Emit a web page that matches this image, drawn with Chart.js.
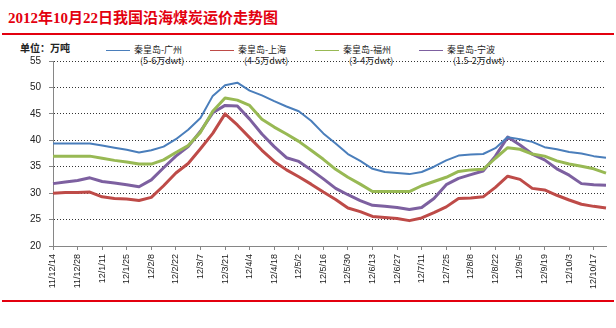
<!DOCTYPE html>
<html><head><meta charset="utf-8">
<script src="https://cdn.jsdelivr.net/npm/chart.js@4/dist/chart.umd.min.js"></script>
<style>
html,body{margin:0;padding:0;background:#fff;width:616px;height:328px;overflow:hidden;position:relative}
#title{position:absolute;left:8px;top:6px;font:bold 15px "Liberation Serif","Noto Sans CJK SC",serif;color:#e3000f;white-space:nowrap;letter-spacing:0px}
.rule{position:absolute;left:2px;width:612px;height:2px;background:#e3000f}
#unit{position:absolute;left:20px;top:40px;font:bold 10px "Noto Sans CJK SC",sans-serif;color:#222;white-space:nowrap}
.leg{position:absolute;font:9px "Noto Sans CJK SC",sans-serif;color:#222;white-space:nowrap;line-height:12px}
.sw{position:absolute;height:1px;width:24px}
#wrap{position:absolute;left:0;top:0;width:616px;height:328px}
</style></head>
<body>
<div id="title">2012年10月22日我国沿海煤炭运价走势图</div>
<div class="rule" style="top:33px"></div>
<div class="rule" style="top:300px"></div>
<div id="unit">单位：万吨</div>
<div id="legend"></div>
<div id="wrap"><canvas id="c"></canvas></div>
<script>
const categories = ['11/12/14','11/12/21','11/12/28','12/1/4','12/1/11','12/1/18','12/1/25','12/2/1','12/2/8','12/2/15',
  '12/2/22','12/2/29','12/3/7','12/3/14','12/3/21','12/3/28','12/4/4','12/4/11','12/4/18','12/4/25',
  '12/5/2','12/5/9','12/5/16','12/5/23','12/5/30','12/6/6','12/6/13','12/6/20','12/6/27','12/7/4',
  '12/7/11','12/7/18','12/7/25','12/8/1','12/8/8','12/8/15','12/8/22','12/8/29','12/9/5','12/9/12',
  '12/9/19','12/9/26','12/10/3','12/10/10','12/10/17','12/10/22'];
const seriesNames = ['秦皇岛-广州','秦皇岛-上海','秦皇岛-福州','秦皇岛-宁波'];
const seriesSizes = ['(5-6万dwt)','(4-5万dwt)','(3-4万dwt)','(1.5-2万dwt)'];
const seriesColors = ['#4a7ebb','#be4b48','#98b954','#7d60a0'];
const guangzhou = [39.4,39.4,39.4,39.4,39.0,38.6,38.2,37.7,38.1,38.8,
  40.2,42.0,44.2,48.4,50.4,50.9,49.4,48.5,47.4,46.4,
  45.5,43.7,41.3,39.4,37.4,36.1,34.6,34.0,33.8,33.6,
  34.0,35.0,36.2,37.1,37.3,37.4,38.5,40.6,40.2,39.7,
  38.7,38.3,37.8,37.5,37.0,36.7];
const shanghai = [30.0,30.1,30.1,30.2,29.3,29.0,28.9,28.6,29.2,31.4,
  33.8,35.6,38.4,41.3,45.0,42.9,40.5,38.1,36.0,34.4,
  33.1,31.7,30.2,28.8,27.2,26.5,25.6,25.4,25.2,24.8,
  25.3,26.3,27.4,29.0,29.1,29.3,31.1,33.2,32.6,30.9,
  30.6,29.6,28.7,27.9,27.5,27.2];
const fuzhou = [37.0,37.0,37.0,37.0,36.6,36.2,35.9,35.5,35.5,36.3,
  37.7,39.0,41.5,45.5,48.0,47.6,46.6,44.0,42.5,41.2,
  39.8,38.1,36.4,34.5,33.0,31.7,30.3,30.3,30.3,30.3,
  31.4,32.2,33.0,34.1,34.4,34.5,36.6,38.6,38.3,37.4,
  37.0,36.1,35.5,35.1,34.6,33.8];
const ningbo = [31.8,32.1,32.4,32.9,32.2,31.9,31.6,31.2,32.5,34.8,
  37.0,38.8,41.7,45.2,46.6,46.5,44.0,41.2,38.8,36.7,
  36.0,34.4,32.7,30.9,29.7,28.6,27.7,27.5,27.3,26.9,
  27.3,29.0,31.6,32.8,33.5,34.2,37.0,40.6,39.1,37.4,
  36.3,34.6,33.4,31.8,31.6,31.5];
const yMin = 20, yMax = 55, yStep = 5;
const seriesValues = [guangzhou, shanghai, fuzhou, ningbo];
const seriesWidths = [2, 3, 3, 3];

// HTML legend built from the arrays
const legend = document.getElementById('legend');
const legX = [106, 210, 315, 419];
seriesNames.forEach((n, k) => {
  const sw = document.createElement('div');
  sw.className = 'sw'; sw.style.left = legX[k] + 'px'; sw.style.top = '50px'; sw.style.background = seriesColors[k];
  legend.appendChild(sw);
  const t1 = document.createElement('div');
  t1.className = 'leg'; t1.style.left = (legX[k] + 28) + 'px'; t1.style.top = '44px'; t1.textContent = n;
  legend.appendChild(t1);
  const t2 = document.createElement('div');
  t2.className = 'leg'; t2.style.left = (legX[k] + 34) + 'px'; t2.style.top = '55px'; t2.textContent = seriesSizes[k];
  legend.appendChild(t2);
});

new Chart(document.getElementById('c'), {
  type: 'line',
  data: {
    labels: categories,
    datasets: seriesNames.map((n, k) => ({
      label: n, data: seriesValues[k], borderColor: seriesColors[k], backgroundColor: seriesColors[k],
      borderWidth: seriesWidths[k], pointRadius: 0, tension: 0, fill: false, borderJoinStyle: 'round'
    }))
  },
  options: {
    responsive: true, maintainAspectRatio: false, animation: false,
    layout: { padding: { top: 61, left: 0, right: 10, bottom: 0 } },
    plugins: { legend: { display: false }, title: { display: false }, tooltip: { enabled: false } },
    scales: {
      x: {
        offset: false,
        afterFit: s => { s.height = 82; },
        grid: { drawOnChartArea: false, drawTicks: true, tickLength: 4, tickColor: '#868686' },
        border: { display: true, color: '#868686', width: 1 },
        ticks: {
          autoSkip: false, maxRotation: 90, minRotation: 90, padding: 4,
          color: '#222', font: { family: 'Liberation Sans', size: 9 },
          callback: function (v, i) { return i % 2 === 0 ? categories[i] : null; }
        }
      },
      y: {
        min: yMin, max: yMax,
        afterFit: s => { s.width = 53; },
        grid: { color: '#333', lineWidth: 1, tickLength: 4, tickColor: '#868686', tickBorderDash: [], borderDash: [1, 2] },
        border: { display: true, color: '#868686', width: 1, dash: [1, 2] },
        ticks: { stepSize: yStep, padding: 8, color: '#222', font: { family: 'Liberation Sans', size: 10 } }
      }
    }
  }
});
</script>
</body></html>
